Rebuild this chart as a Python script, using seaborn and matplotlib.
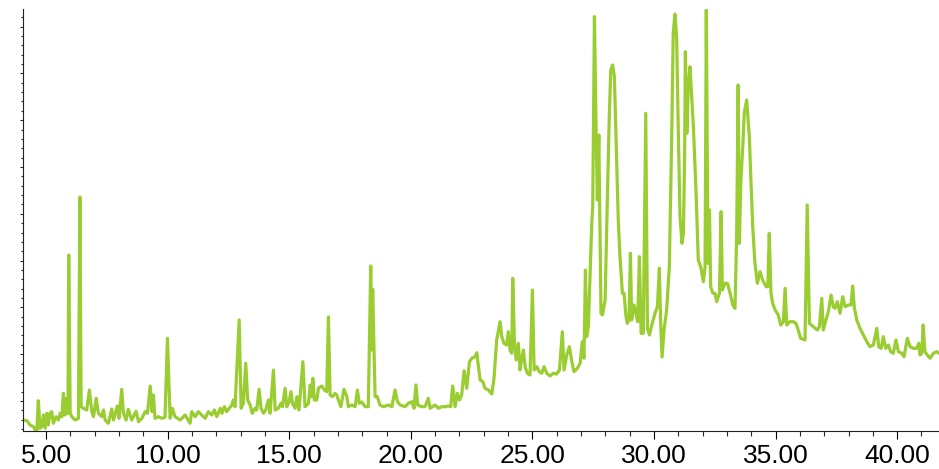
import matplotlib
matplotlib.use("Agg")
import matplotlib.pyplot as plt
from matplotlib.ticker import MultipleLocator, FormatStrFormatter
import seaborn as sns
import pandas as pd

# retention time (min) and abundance (arbitrary units)
rt_min = [
    4.05, 4.21, 4.34, 4.48, 4.55, 4.62, 4.68, 4.75, 4.82, 4.89,
    4.96, 5.03, 5.09, 5.16, 5.23, 5.30, 5.41, 5.51, 5.58, 5.65,
    5.71, 5.78, 5.85, 5.90, 5.93, 5.99, 6.06, 6.19, 6.33, 6.39,
    6.44, 6.53, 6.67, 6.78, 6.88, 6.95, 7.06, 7.15, 7.29, 7.36,
    7.43, 7.56, 7.70, 7.77, 7.93, 8.00, 8.11, 8.18, 8.29, 8.38,
    8.52, 8.70, 8.80, 8.94, 9.07, 9.17, 9.28, 9.36, 9.41, 9.48,
    9.62, 9.76, 9.89, 9.99, 10.10, 10.19, 10.30,
    10.51, 10.72, 10.92, 10.99, 11.13, 11.26, 11.40, 11.54, 11.67, 11.81,
    11.92, 12.02, 12.16, 12.23, 12.33, 12.43, 12.53, 12.64, 12.70, 12.77,
    12.94, 13.02, 13.11, 13.21, 13.29, 13.39, 13.48, 13.59, 13.66, 13.76,
    13.84, 13.94, 14.03, 14.14, 14.21, 14.35, 14.42, 14.55, 14.66, 14.72,
    14.83, 14.90, 14.99, 15.07, 15.13, 15.24, 15.31, 15.40, 15.56, 15.65,
    15.79, 15.86, 15.93, 15.97, 16.03, 16.13, 16.20, 16.34, 16.44, 16.54,
    16.61, 16.68, 16.77, 16.88, 16.95, 17.02, 17.12,
    17.25, 17.37, 17.43, 17.57, 17.71, 17.80, 17.88, 17.98, 18.12, 18.25,
    18.35, 18.39, 18.43, 18.53, 18.62, 18.73, 18.87, 19.08, 19.22, 19.35,
    19.45, 19.56, 19.76, 19.90, 20.04, 20.13, 20.21, 20.28, 20.45, 20.58,
    20.72, 20.79, 21.00, 21.13, 21.27, 21.41, 21.54, 21.64, 21.72, 21.82,
    21.91, 22.00, 22.09, 22.19, 22.30, 22.41, 22.51, 22.64, 22.71, 22.78,
    22.85, 22.96, 23.05, 23.19, 23.33, 23.42, 23.53, 23.67,
    23.74, 23.83, 23.94, 24.01, 24.08, 24.15, 24.19, 24.26, 24.33, 24.42,
    24.49, 24.56, 24.63, 24.70, 24.79, 24.90, 25.00, 25.07, 25.18, 25.28,
    25.38, 25.48, 25.59, 25.72, 25.86, 26.00, 26.11, 26.23, 26.30, 26.41,
    26.52, 26.62, 26.71, 26.85, 26.96, 27.05, 27.12, 27.18, 27.23, 27.30,
    27.44, 27.48, 27.55, 27.62, 27.67, 27.73, 27.78, 27.82, 27.88, 27.99,
    28.08, 28.16, 28.22, 28.30, 28.37, 28.44, 28.53, 28.60, 28.70, 28.77,
    28.84, 28.90, 28.97, 29.03, 29.08, 29.18, 29.26, 29.33, 29.40, 29.47,
    29.56, 29.66, 29.73, 29.81, 29.91, 30.04, 30.14, 30.22, 30.27, 30.33,
    30.42, 30.52, 30.63, 30.73, 30.79, 30.86, 30.93, 31.00, 31.07, 31.15,
    31.21, 31.26, 31.29, 31.35, 31.41, 31.48, 31.55, 31.62, 31.73, 31.82,
    31.92, 32.03, 32.10, 32.15, 32.22, 32.28, 32.33, 32.42, 32.51, 32.58,
    32.69, 32.76, 32.81, 32.92, 33.02, 33.13, 33.24, 33.33, 33.40, 33.46,
    33.51, 33.57, 33.65, 33.71, 33.81,
    33.92, 33.99, 34.06, 34.15, 34.25, 34.36, 34.47, 34.61, 34.68, 34.74,
    34.81, 34.88, 34.98, 35.11, 35.21, 35.32, 35.39, 35.46, 35.59, 35.73,
    35.84, 35.93, 36.03, 36.21, 36.30, 36.39, 36.55, 36.72, 36.80, 36.90,
    36.96, 37.07, 37.17, 37.28, 37.37, 37.44, 37.54, 37.65, 37.76, 37.86,
    37.99, 38.10, 38.17, 38.24, 38.34, 38.47, 38.61, 38.75, 38.88, 39.02,
    39.16, 39.24, 39.34, 39.43, 39.53, 39.64, 39.73, 39.84, 39.95, 40.05,
    40.19, 40.28, 40.42, 40.53, 40.66, 40.80, 40.89, 40.94, 41.01, 41.07,
    41.14, 41.24, 41.35, 41.49, 41.63, 41.72,
]

abundance = [
    11, 10.3, 6, 4.3, 1, 0, 30.3, 2.7, 4.3, 16,
    2.7, 17.7, 6, 17.7, 19.3, 7.7, 14.3, 11, 17.7, 14.3,
    37.7, 16, 32.7, 17.7, 176, 17.7, 14.3, 11, 12.7, 234,
    24.3, 22.7, 21, 41, 19.3, 14.3, 32.7, 17.7, 14.3, 21,
    11, 7.7, 22, 11, 25, 12.7, 41.7, 17.7, 11, 21.7,
    11, 19.7, 9.3, 12.7, 19.3, 17.7, 45, 19.3, 36, 12.7,
    14.3, 12.7, 13.7, 92.7, 12.7, 22.7, 14.3,
    11, 16, 7.7, 19.3, 14.3, 19.3, 16, 12.7, 19.3, 16,
    21, 14.3, 22.7, 17.7, 24.3, 19.3, 22.7, 26, 31, 24.3,
    111, 22.7, 27.7, 67.7, 31, 26, 17.7, 22.7, 21, 41.7,
    22.7, 17.7, 21, 31, 17.7, 61, 21, 22.7, 27.7, 24.3,
    42.7, 24.3, 29.3, 39.3, 27.7, 22.7, 34.3, 21, 69.3, 24.3,
    27.7, 46, 34.3, 52.7, 31, 31, 42.7, 45, 41, 39.3,
    114, 36, 34.3, 37.7, 36, 31, 24.3,
    41.7, 34.3, 24.3, 26, 24.3, 41, 27.7, 29, 24.3, 24.3,
    165, 81, 141.7, 34.3, 34.3, 26, 24.3, 26, 24.3, 41,
    29.3, 26, 24.3, 27.7, 29.3, 22.7, 46, 26, 24.3, 24.3,
    32.7, 22.7, 26, 22.7, 24.3, 24.3, 25, 24.3, 45, 24.3,
    37.7, 31, 36, 60.3, 42.7, 69.3, 72.7, 74.3, 78.3, 64.3,
    51, 49.3, 42.7, 41, 37, 52.7, 91, 109.3,
    94.3, 87.7, 86, 99.3, 81, 77.7, 152.7, 87.7, 71, 87.7,
    61, 72.7, 81, 64.3, 57.7, 56, 141, 61, 64.3, 59.3,
    57.7, 64.3, 57.7, 55, 57.7, 57, 61, 99.3, 61, 76,
    84.3, 69.3, 59.3, 62.7, 67.7, 89.3, 72.7, 161, 94.3, 104.3,
    207.7, 224.3, 414.3, 297.7, 231, 296, 197.7, 117.7, 116, 131,
    231, 314.3, 361, 366, 354.3, 291, 211, 174.3, 137.7, 137.7,
    116, 107.7, 111, 177.7, 111, 126, 117.7, 109.3, 174.3, 97.7,
    97.7, 317.7, 102.7, 96, 106, 117.7, 124.3, 162.7, 111, 74,
    102.7, 121, 164.3, 297.7, 397.7, 417, 394.3, 297.7, 214.3, 187.7,
    197.7, 277.7, 379.3, 297.7, 344.3, 364.3, 334.3, 304.3, 237.7, 171,
    164.3, 149.3, 164.3, 421, 167.7, 221, 144.3, 137.7, 137.7, 129.3,
    137.7, 219.3, 141, 147.7, 147.7, 137.7, 126, 122.7, 197.7, 346,
    187.7, 249.3, 284.3, 317.7, 331,
    294.3, 247.7, 204.3, 167.7, 147.7, 159.3, 151, 144.3, 144.3, 197.7,
    137.7, 127.7, 121, 116, 106, 109.3, 142.7, 106, 109.3, 109.3,
    107.7, 101, 92.7, 91, 226, 107.7, 104.3, 101, 104.3, 132.7,
    101, 111, 119.3, 136, 124.3, 122.7, 129.3, 117.7, 134.3, 124.3,
    126, 126, 145, 122.7, 111, 102.7, 96, 89.3, 84.3, 86,
    102.7, 84.3, 82.7, 94.3, 82.7, 86, 79.3, 77.7, 91, 79.3,
    77.7, 74.3, 92.7, 84.3, 82.7, 82.7, 87.7, 76, 77.7, 106,
    79.3, 76, 72.7, 77.7, 79.3, 77.7,
]

df = pd.DataFrame({"rt": rt_min, "abundance": abundance})

sns.set_theme(style="ticks")
plt.rcParams["font.family"] = ["Liberation Sans", "DejaVu Sans"]

fig = plt.figure(figsize=(9.39, 4.69), dpi=100)
ax = fig.add_axes([23 / 939, 38 / 469, 916 / 939, 422 / 469])

sns.lineplot(data=df, x="rt", y="abundance", ax=ax, color="#9acd32",
             linewidth=2.3, sort=False, estimator=None)

ax.set_xlim(4.05, 41.72)
ax.set_ylim(0, 422)
ax.set_xlabel("")
ax.set_ylabel("")

ax.xaxis.set_major_locator(MultipleLocator(5))
ax.xaxis.set_minor_locator(MultipleLocator(1))
ax.xaxis.set_major_formatter(FormatStrFormatter("%.2f"))
ax.yaxis.set_major_locator(MultipleLocator(46.8, offset=30))
ax.yaxis.set_minor_locator(MultipleLocator(9.36, offset=30))

ax.tick_params(axis="x", which="major", length=6, width=0.8, pad=3,
               labelsize=19, colors="black", direction="out")
ax.tick_params(axis="x", which="minor", length=3.5, width=0.8, direction="out")
ax.tick_params(axis="y", which="major", length=2.5, width=0.8, labelleft=False,
               direction="out")
ax.tick_params(axis="y", which="minor", length=1.5, width=0.8, direction="out")

for side in ["top", "right"]:
    ax.spines[side].set_visible(False)
for side in ["left", "bottom"]:
    ax.spines[side].set_color("#222222")
    ax.spines[side].set_linewidth(0.8)

fig.savefig("out.png", dpi=100)
